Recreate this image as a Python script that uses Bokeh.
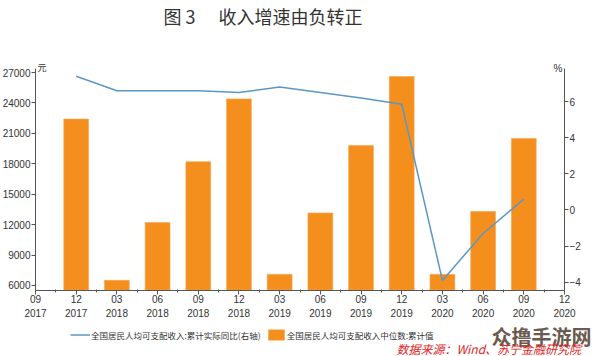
from bokeh.plotting import figure
from bokeh.models import (Range1d, LinearAxis, FixedTicker, Label, Legend, LegendItem,
                          ColumnDataSource)
from bokeh.embed import file_html
from bokeh.resources import INLINE

# ---------------- data ----------------
month_labels = ["09", "12", "03", "06", "09", "12", "03", "06", "09", "12", "03", "06", "09", "12"]
year_labels = ["2017", "2017", "2018", "2018", "2018", "2018", "2019", "2019", "2019", "2019",
               "2020", "2020", "2020", "2020"]
bar_positions = [1, 2, 3, 4, 5, 6, 7, 8, 9, 10, 11, 12]
median_income = [22408, 6505, 12200, 18200, 24400, 7100, 13150, 19800, 26600, 7100, 13300, 20500]
real_growth = [7.4, 6.6, 6.6, 6.6, 6.5, 6.8, 6.5, 6.2, 5.85, -3.9, -1.3, 0.6]
left_ticks = [6000, 9000, 12000, 15000, 18000, 21000, 24000, 27000]
right_ticks = [-4, -2, 0, 2, 4, 6]

title_num = "图 3"
title_text = "收入增速由负转正"
line_name = "全国居民人均可支配收入:累计实际同比(右轴)"
bar_name = "全国居民人均可支配收入中位数:累计值"
source_note = "数据来源：Wind、苏宁金融研究院"
watermark = "众撸手游网"

# ---------------- geometry (canvas pixels) ----------------
W, H = 594, 356
PL, PR, PT, PB = 35.0, 564.0, 68.0, 289.5      # plot-area edges on the canvas
X0, X1 = 0.0, 13.0                               # quarters shown
L0, L1 = 5556.0, 27395.0                         # left axis extent
R0, R1 = -4.43, 7.83                             # right axis extent


def span(v0, v1, p0, p1, c0, c1):
    """extend a value interval [v0,v1] living on pixels [p0,p1] to pixels [c0,c1]"""
    k = (v1 - v0) / (p1 - p0)
    return v0 + (c0 - p0) * k, v0 + (c1 - p0) * k

xs, xe = span(X0, X1, PL, PR, 0, W)
ls, le = span(L0, L1, H - PB, H - PT, 0, H)
rs, re = span(R0, R1, H - PB, H - PT, 0, H)

ORANGE = "#F48F1E"
BLUE = "#5B97C6"
AXIS = "#555555"
TXT = "#333333"
NUM_FONT = "Liberation Sans"
CJK_FONT = "Noto Sans CJK SC"

p = figure(width=W, height=H, output_backend="svg", toolbar_location=None,
           x_range=Range1d(xs, xe), y_range=Range1d(ls, le),
           min_border=0, min_border_left=0, min_border_right=0,
           min_border_top=0, min_border_bottom=0,
           x_axis_location=None, y_axis_location=None)
p.extra_y_ranges = {"right": Range1d(rs, re)}
p.xgrid.grid_line_color = None
p.ygrid.grid_line_color = None
p.outline_line_color = None
p.background_fill_color = "white"
p.border_fill_color = "white"

src = ColumnDataSource(dict(x=bar_positions, inc=median_income, g=real_growth))
bars = p.vbar(x="x", top="inc", bottom=L0, width=0.61, source=src,
              fill_color=ORANGE, line_color="#F7A54E", line_width=0.6)
line = p.line(x="x", y="g", source=src, y_range_name="right", line_color=BLUE, line_width=1.5)

# left axis
la = LinearAxis(ticker=FixedTicker(ticks=left_ticks), fixed_location=X0, bounds=(L0, L1))
# right axis
ra = LinearAxis(y_range_name="right", ticker=FixedTicker(ticks=right_ticks),
                fixed_location=X1, bounds=(R0, R1))
for ax in (la, ra):
    ax.axis_line_color = AXIS
    ax.major_tick_line_color = AXIS
    ax.major_tick_out = 4
    ax.major_tick_in = 0
    ax.minor_tick_line_color = None
    ax.major_label_text_font = NUM_FONT
    ax.major_label_text_font_size = "10px"
    ax.major_label_text_color = TXT
    ax.major_label_standoff = 1
p.add_layout(la, "left")
p.add_layout(ra, "right")

# bottom axes: months then years
xt = list(range(14))
mx = LinearAxis(ticker=FixedTicker(ticks=xt, minor_ticks=[i + 0.5 for i in range(13)]),
                fixed_location=L0, bounds=(X0, X1))
mx.major_label_overrides = {i: m for i, m in enumerate(month_labels)}
mx.axis_line_color = AXIS
mx.major_tick_line_color = AXIS
mx.major_tick_out = 4
mx.major_tick_in = 0
mx.minor_tick_line_color = AXIS
mx.minor_tick_out = 2
mx.minor_tick_in = 1
mx.major_label_standoff = 1
yx = LinearAxis(ticker=FixedTicker(ticks=xt), fixed_location=L0, bounds=(X0, X1))
yx.major_label_overrides = {i: y for i, y in enumerate(year_labels)}
yx.axis_line_color = None
yx.major_tick_line_color = None
yx.minor_tick_line_color = None
yx.major_tick_out = 0
yx.major_label_standoff = 19
for ax in (mx, yx):
    ax.major_label_text_font = NUM_FONT
    ax.major_label_text_font_size = "10px"
    ax.major_label_text_color = TXT
p.add_layout(mx, "below")
p.add_layout(yx, "below")


def lab(cx, cy, text, font, size, color=TXT, align="left", style="normal"):
    p.add_layout(Label(x=cx, y=H - cy, x_units="screen", y_units="screen", text=text,
                       text_font=font, text_font_size=size, text_color=color,
                       text_font_style=style, text_baseline="middle", text_align=align))

lab(163, 15, title_num, CJK_FONT, "18px")
lab(218, 15, title_text, CJK_FONT, "18px")
lab(37, 67, "元", CJK_FONT, "9px")
lab(562, 68, "%", NUM_FONT, "10px", align="right")

legend = Legend(items=[LegendItem(label=line_name, renderers=[line]),
                       LegendItem(label=bar_name, renderers=[bars])],
                location=(70, H - 341), orientation="horizontal",
                glyph_width=20, glyph_height=13, label_height=13,
                label_text_font=CJK_FONT, label_text_font_size="8.5px", label_text_color=TXT,
                label_standoff=1, spacing=5, padding=0, margin=0,
                border_line_color=None, background_fill_alpha=0)
p.add_layout(legend)

lab(541, 336, watermark, CJK_FONT, "20px", color="#6B5A4E", align="center", style="bold")
lab(396, 348, source_note, CJK_FONT, "12px", color="#E02424", style="italic")

open("out.html", "w").write(file_html(p, INLINE))
